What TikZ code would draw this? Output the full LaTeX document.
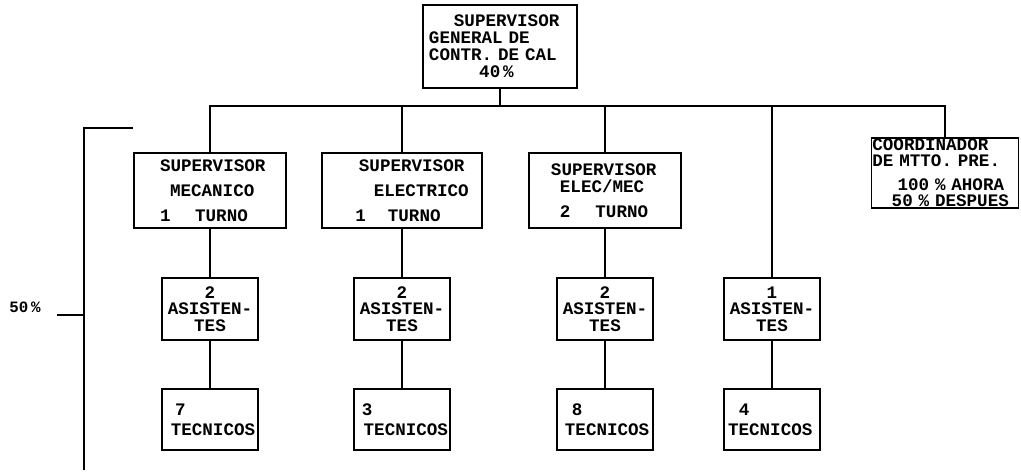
\documentclass[tikz,border=0pt]{standalone}
\usepackage{fontspec}
\newfontfamily\plotfont{Liberation Mono}
\usepackage{tikz}
\usetikzlibrary{positioning}
\newcommand{\ind}[1]{\hspace*{#1em}}

\begin{document}
\begin{tikzpicture}[
    x=0.02cm,
    y=-0.02cm,
    line width=1pt,
    chart/.style={draw, line width=1pt, inner sep=0pt, align=left, font=\plotfont\bfseries\fontsize{10}{#1}\selectfont},
    sup/.style={chart=14.2pt, text width=3.04cm, minimum height=1.5cm},
    asis/.style={chart=9.5pt, align=center, text width=1.92cm, minimum height=1.24cm},
    tecn/.style={chart=11.4pt, text width=1.92cm, minimum height=1.22cm}
]
\useasboundingbox (0,0) rectangle (1021,472);

\node[chart=9.6pt, text width=3.08cm, minimum height=1.66cm] (gen) at (500,46.5)
  {\ind{1.76}SUPERVISOR\\\ind{0.34}GENERAL DE\\\ind{0.34}CONTR. DE CAL\\\ind{3.2}40\,\%};

\node[sup] (sm) at (210,190.5) {\ind{1.48}SUPERVISOR\\\ind{2.05}MECANICO\\\ind{1.48}1\ind{1.4}TURNO};
\node[sup, text width=3.2cm] (se) at (402,190.5) {\ind{2.1}SUPERVISOR\\\ind{2.95}ELECTRICO\\\ind{1.9}1\ind{1.25}TURNO};
\node[sup, chart=10pt] (sem) at (605,190.5) {\ind{1.25}SUPERVISOR\\\ind{1.76}ELEC/MEC\\[4pt]\ind{1.76}2\ind{1.42}TURNO};
\node[chart=9.2pt, text width=2.94cm, minimum height=1.4cm] (co) at (945,173)
  {\ind{0.05}COORDINADOR\\\ind{0.05}DE MTTO. PRE.\\[4.5pt]\ind{1.48}100 \% AHORA\\\ind{1.15}50 \% DESPUES};

\node[asis] (a1) at (210,309) {2\\ASISTEN-\\TES};
\node[asis] (a2) at (402,309) {2\\ASISTEN-\\TES};
\node[asis] (a3) at (605,309) {2\\ASISTEN-\\TES};
\node[asis] (a4) at (772,309) {1\\ASISTEN-\\TES};

\node[tecn] (t1) at (210,419.5) {\ind{0.74}7\\\ind{0.5}TECNICOS};
\node[tecn] (t2) at (402,419.5) {\ind{0.45}3\\\ind{0.55}TECNICOS};
\node[tecn] (t3) at (605,419.5) {\ind{0.85}8\\\ind{0.45}TECNICOS};
\node[tecn] (t4) at (772,419.5) {\ind{0.85}4\\\ind{0.23}TECNICOS};

\draw (gen.south) -- ++(0,17) coordinate (hub);
\draw (sm.north) |- (co.north |- hub) -- (co.north);
\draw (se.north) -- (se.north |- hub);
\draw (sem.north) -- (sem.north |- hub);
\draw (a4.north) -- (a4.north |- hub);
\foreach \s/\a in {sm/a1,se/a2,sem/a3}{
  \draw (\s) -- (\a);
}
\foreach \a/\t in {a1/t1,a2/t2,a3/t3,a4/t4}{
  \draw (\a) -- (\t);
}

\node[font=\plotfont\bfseries\fontsize{9}{10}\selectfont, inner sep=0pt] (pct) at (25,307) {50\,\%};
\coordinate (brk) at (84,315);
\draw (133,128) -- (84,128) -- (84,470);
\draw (brk) -- ++(-27,0);
\end{tikzpicture}
\end{document}
